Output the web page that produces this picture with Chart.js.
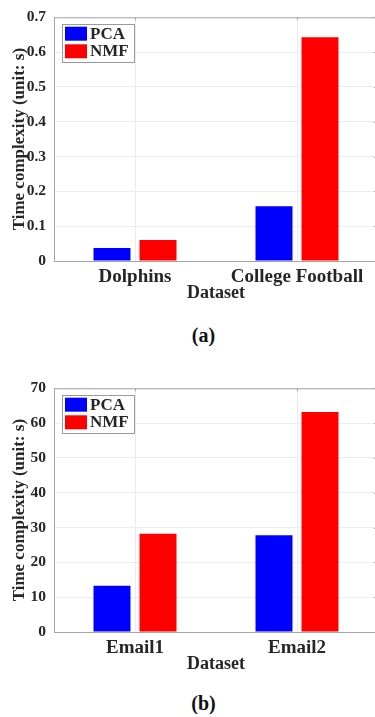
<!DOCTYPE html>
<html><head><meta charset="utf-8">
<script src="https://cdn.jsdelivr.net/npm/chart.js@4"></script>
<style>
html,body{margin:0;padding:0;background:#fff;}
body{width:375px;height:717px;overflow:hidden;position:relative;}
.wrap{position:absolute;left:0;width:380px;height:305px;}
.cap{position:absolute;left:0;width:407px;text-align:center;font:bold 20px "Liberation Serif",serif;color:#111;line-height:24px;}
</style></head><body>
<div class="wrap" style="top:0"><canvas id="ca" width="380" height="305"></canvas></div>
<div class="cap" style="top:323px">(a)</div>
<div class="wrap" style="top:371px"><canvas id="cb" width="380" height="305"></canvas></div>
<div class="cap" style="top:691px">(b)</div>
<script>
const seriesNames = ['PCA', 'NMF'];
const seriesColors = ['#0000ff', '#ff0000'];

const categoriesA = ['Dolphins', 'College Football'];
const pcaA = [0.037, 0.157];
const nmfA = [0.060, 0.643];
const yTicksA = ['0', '0.1', '0.2', '0.3', '0.4', '0.5', '0.6', '0.7'];

const categoriesB = ['Email1', 'Email2'];
const pcaB = [13.3, 27.8];
const nmfB = [28.2, 63.2];
const yTicksB = ['0', '10', '20', '30', '40', '50', '60', '70'];

const FONT = '"Liberation Serif", "Times New Roman", serif';
const TXT = '#262626';
const GRID = '#ececec';
const AXIS = '#a6a6a6';

const boxPlugin = {
  id: 'boxPlugin',
  afterDatasetsDraw(chart) {
    const {ctx, chartArea: a, scales} = chart;
    ctx.save();
    ctx.strokeStyle = AXIS;
    ctx.lineWidth = 1;
    ctx.beginPath();
    ctx.moveTo(a.left, a.top + 0.5); ctx.lineTo(a.right, a.top + 0.5);
    ctx.moveTo(a.right - 0.5, a.top); ctx.lineTo(a.right - 0.5, a.bottom);
    scales.x.ticks.forEach((t, i) => {
      const x = Math.round(scales.x.getPixelForTick(i)) + 0.5;
      ctx.moveTo(x, a.top); ctx.lineTo(x, a.top + 3);
    });
    scales.y.ticks.forEach((t, i) => {
      const y = Math.round(scales.y.getPixelForTick(i)) + 0.5;
      ctx.moveTo(a.right - 4, y); ctx.lineTo(a.right, y);
    });
    ctx.stroke();
    ctx.restore();
  },
  afterDraw(chart) {
    const {ctx, chartArea: a} = chart;
    const bx = a.left + 7.7, by = a.top + 6.7, bw = 71.6, bh = 37.7;
    ctx.save();
    ctx.fillStyle = '#fff';
    ctx.fillRect(bx, by, bw, bh);
    ctx.strokeStyle = '#9a9a9a';
    ctx.lineWidth = 1;
    ctx.strokeRect(Math.round(bx) + 0.5, Math.round(by) + 0.5, Math.round(bw), Math.round(bh));
    chart.data.datasets.forEach((ds, i) => {
      const sy = by + 2.7 + i * 17.6;
      ctx.fillStyle = ds.backgroundColor;
      ctx.fillRect(bx + 3.3, sy, 22, 14);
      ctx.fillStyle = TXT;
      ctx.font = 'bold 17px ' + FONT;
      ctx.textBaseline = 'middle';
      ctx.textAlign = 'left';
      ctx.fillText(ds.label, bx + 28.3, sy + 7.5);
    });
    ctx.restore();
  }
};

function makeChart(id, cats, pca, nmf, max, step, tickLabels) {
  return new Chart(document.getElementById(id), {
    type: 'bar',
    data: {
      labels: cats,
      datasets: [
        {label: seriesNames[0], data: pca, backgroundColor: seriesColors[0], borderWidth: 0},
        {label: seriesNames[1], data: nmf, backgroundColor: seriesColors[1], borderWidth: 0}
      ]
    },
    options: {
      responsive: false,
      animation: false,
      devicePixelRatio: 1,
      categoryPercentage: 0.568,
      barPercentage: 0.804,
      layout: {padding: {top: 12, right: 2, left: 0, bottom: 0}},
      plugins: {legend: {display: false}, tooltip: {enabled: false}, title: {display: false}},
      scales: {
        x: {
          grid: {offset: false, color: GRID, drawTicks: false},
          border: {color: AXIS, width: 1},
          ticks: {padding: 5, color: TXT, font: {family: FONT, size: 19, weight: 'bold'}, maxRotation: 0, autoSkip: false},
          title: {display: true, text: 'Dataset', color: TXT, font: {family: FONT, size: 18, weight: 'bold'}, padding: {top: 0, bottom: 1}},
          afterFit: s => { s.height = 44; }
        },
        y: {
          min: 0, max: max,
          grid: {color: GRID, drawTicks: false},
          border: {color: AXIS, width: 1},
          ticks: {stepSize: step, padding: 8, color: TXT, font: {family: FONT, size: 15.5, weight: 'bold'},
            callback: (v, i) => tickLabels[i] !== undefined ? tickLabels[i] : v},
          title: {display: true, text: 'Time complexity (unit: s)', color: TXT, font: {family: FONT, size: 17, weight: 'bold'}, padding: {top: 9, bottom: 0}},
          afterFit: s => { s.width = 54; }
        }
      }
    },
    plugins: [boxPlugin]
  });
}

makeChart('ca', categoriesA, pcaA, nmfA, 0.7, 0.1, yTicksA);
makeChart('cb', categoriesB, pcaB, nmfB, 70, 10, yTicksB);
</script>
</body></html>
